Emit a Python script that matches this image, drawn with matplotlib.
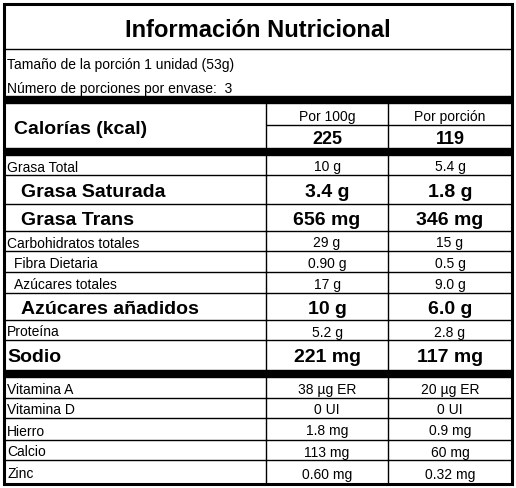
import matplotlib
matplotlib.use("Agg")
import matplotlib.pyplot as plt

title = "Información Nutricional"
serving = "Tamaño de la porción 1 unidad (53g)"
portions = "Número de porciones por envase:  3"
col_heads = ["Por 100g", "Por porción"]
calories = ["225", "119"]
labels = ["Grasa Total", "Grasa Saturada", "Grasa Trans", "Carbohidratos totales",
          "Fibra Dietaria", "Azúcares totales", "Azúcares añadidos", "Proteína", "Sodio"]
per100 = ["10 g", "3.4 g", "656 mg", "29 g", "0.90 g", "17 g", "10 g", "5.2 g", "221 mg"]
perport = ["5.4 g", "1.8 g", "346 mg", "15 g", "0.5 g", "9.0 g", "6.0 g", "2.8 g", "117 mg"]
bold = [False, True, True, False, False, False, True, False, True]
indent = [0, 1, 1, 0, 0.5, 0.5, 1, 0, 0]
vit_labels = ["Vitamina A", "Vitamina D", "Hierro", "Calcio", "Zinc"]
vit100 = ["38 µg ER", "0 UI", "1.8 mg", "113 mg", "0.60 mg"]
vitport = ["20 µg ER", "0 UI", "0.9 mg", "60 mg", "0.32 mg"]

fig = plt.figure(figsize=(5.16, 4.88), dpi=100)
ax = fig.add_axes([0, 0, 1, 1])
ax.set_xlim(0, 516); ax.set_ylim(488, 0); ax.axis("off")
plt.rcParams['font.family'] = ['Liberation Sans', 'DejaVu Sans']

SM = 10
L, R, T, B = 4, 512, 4, 484
C1, C2 = 266, 388
ax.add_patch(plt.Rectangle((L, T), R-L, B-T, fill=False, lw=2.2, color="black"))
def hl(y, x0=L, x1=R, lw=1):
    ax.plot([x0, x1], [y, y], color="black", lw=lw, solid_capstyle="butt")
def vl(x, y0, y1):
    ax.plot([x, x], [y0, y1], color="black", lw=1)
def bar(y0, y1):
    ax.add_patch(plt.Rectangle((L, y0), R-L, y1-y0, color="black"))
def t(x, y, s, **kw):
    ax.text(x, y + 1, s, va="center_baseline", **kw)

t(258, 27, title, ha="center", fontsize=17, fontweight="bold")
hl(49)
t(7, 63, serving, ha="left", fontsize=SM)
t(7, 86, portions, ha="left", fontsize=SM)
bar(96, 103)
t(14, 126, "Calorías (kcal)", ha="left", fontsize=14, fontweight="bold")
vl(C1, 103, 148); vl(C2, 103, 148)
hl(125, C1, R)
for i, x in enumerate([(C1+C2)/2, (C2+R)/2]):
    t(x, 115, col_heads[i], ha="center", fontsize=SM)
    t(x, 137, calories[i], ha="center", fontsize=13, fontweight="bold")
bar(148, 155)

bounds = [155, 175, 204, 231, 251, 272, 293, 320, 340, 370]
for i, lab in enumerate(labels):
    y0, y1 = bounds[i], bounds[i+1]
    yc = (y0 + y1) / 2
    b = bold[i]
    fs = 14 if b else SM
    fw = "bold" if b else "normal"
    t(7 + indent[i]*14, yc, lab, ha="left", fontsize=fs, fontweight=fw)
    t((C1+C2)/2, yc, per100[i], ha="center", fontsize=fs, fontweight=fw)
    t((C2+R)/2, yc, perport[i], ha="center", fontsize=fs, fontweight=fw)
    vl(C1, y0, y1); vl(C2, y0, y1)
    if i < len(labels) - 1:
        hl(y1)
bar(370, 377)

vb = [377, 398, 418, 440, 460, 484]
for i, lab in enumerate(vit_labels):
    y0, y1 = vb[i], vb[i+1]
    yc = (y0 + y1) / 2
    t(7, yc, lab, ha="left", fontsize=SM)
    t((C1+C2)/2, yc, vit100[i], ha="center", fontsize=SM)
    t((C2+R)/2, yc, vitport[i], ha="center", fontsize=SM)
    vl(C1, y0, y1); vl(C2, y0, y1)
    if i < len(vit_labels) - 1:
        hl(y1)

fig.savefig("out.png", dpi=100)
